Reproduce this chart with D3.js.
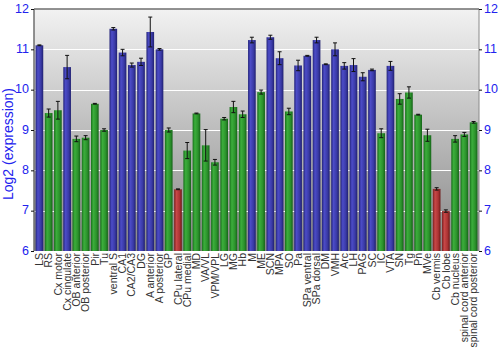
<!DOCTYPE html>
<html>
<head>
<meta charset="utf-8">
<script src="https://cdn.jsdelivr.net/npm/d3@7"></script>
<style>
  html, body { margin: 0; padding: 0; background: #fff; }
  svg { display: block; }
</style>
</head>
<body>
<svg id="chart" width="500" height="350"></svg>
<script>
// Brain regions and their mean log2 expression, with error (± half-range)
const regions = ["LS","RS","Cx motor","Cx cingulate","OB anterior","OB posterior","Pir","Tu",
  "ventral S","CA1","CA2/CA3","DG","A anterior","A posterior","GP","CPu lateral","CPu medial",
  "MD","VA/VL","VPM/VPL","LG","MG","Hb","M","ME","SCN","MPA","SO","Pa","SPa ventral",
  "SPa dorsal","DM","VMH","Arc","LH","PAG","SC","IC","VTA","SN","Tg","Pn","MVe",
  "Cb vermis","Cb lobe","Cb nucleus","spinal cord anterior","spinal cord posterior"];

const expression = [11.10,9.42,9.49,10.56,8.78,8.81,9.65,9.00,
  11.51,10.92,10.61,10.69,11.43,11.00,9.00,7.53,8.49,
  9.41,8.62,8.20,9.28,9.57,9.39,11.23,9.94,11.30,10.78,9.46,10.60,10.84,
  11.23,10.63,11.00,10.59,10.61,10.32,10.49,8.92,10.59,9.77,9.93,9.38,8.87,
  7.54,6.99,8.78,8.89,9.19];

const errors = [0.01,0.10,0.22,0.29,0.07,0.05,0.01,0.03,
  0.03,0.08,0.05,0.09,0.37,0.02,0.05,0.01,0.20,
  0.01,0.39,0.07,0.03,0.14,0.08,0.07,0.05,0.05,0.16,0.08,0.13,0.01,
  0.07,0.01,0.16,0.08,0.16,0.10,0.02,0.11,0.11,0.13,0.14,0.01,0.15,
  0.03,0.03,0.08,0.05,0.02];

// expression level class: h = high, m = medium, l = low
const levels = ["h","m","m","h","m","m","m","m",
  "h","h","h","h","h","h","m","l","m",
  "m","m","m","m","m","m","h","m","h","h","m","h","h",
  "h","h","h","h","h","h","h","m","h","m","m","m","m",
  "l","l","m","m","m"];

const yTicks = [6,7,8,9,10,11,12];

const svg = d3.select("#chart");
const margin = {left: 34, right: 21, top: 9, bottom: 99};
const W = 500, H = 350;
const x0 = margin.left, x1 = W - margin.right, y0 = margin.top, y1 = H - margin.bottom;
const font = "'Liberation Sans', Arial, sans-serif";

const x = d3.scaleBand().domain(regions).range([x0, x1]).padding(0.17);
const y = d3.scaleLinear().domain([6, 12]).range([y1, y0]);

const defs = svg.append("defs");
const bg = defs.append("linearGradient").attr("id", "bg").attr("x1", 0).attr("y1", 0).attr("x2", 0).attr("y2", 1);
bg.append("stop").attr("offset", "0%").attr("stop-color", "#f2f2f2");
bg.append("stop").attr("offset", "100%").attr("stop-color", "#878787");

const palette = {
  h: ["#24247a", "#4c4cc8", "#3a3aa6", "#202070"],
  m: ["#17701a", "#3cae3c", "#2c922c", "#156418"],
  l: ["#7a1e1e", "#c84848", "#ac3434", "#6e1a1a"]
};
Object.entries(palette).forEach(([k, c]) => {
  const g = defs.append("linearGradient").attr("id", "bar-" + k)
    .attr("x1", 0).attr("y1", 0).attr("x2", 1).attr("y2", 0);
  g.append("stop").attr("offset", "0%").attr("stop-color", c[0]);
  g.append("stop").attr("offset", "30%").attr("stop-color", c[1]);
  g.append("stop").attr("offset", "70%").attr("stop-color", c[2]);
  g.append("stop").attr("offset", "100%").attr("stop-color", c[3]);
});

// plot background
svg.append("rect").attr("x", x0).attr("y", y0).attr("width", x1 - x0).attr("height", y1 - y0)
  .attr("fill", "url(#bg)");

// horizontal grid
svg.append("g").selectAll("line").data(yTicks.filter(t => t > 6 && t < 12)).join("line")
  .attr("x1", x0).attr("x2", x1).attr("y1", d => Math.round(y(d)) + 0.5).attr("y2", d => Math.round(y(d)) + 0.5)
  .attr("stroke", "#ffffff").attr("stroke-width", 1.2);

// bars
svg.append("g").selectAll("rect").data(regions).join("rect")
  .attr("x", d => x(d)).attr("width", x.bandwidth())
  .attr("y", (d, i) => y(expression[i])).attr("height", (d, i) => y1 - y(expression[i]))
  .attr("fill", (d, i) => "url(#bar-" + levels[i] + ")");

// error bars
const eb = svg.append("g").attr("stroke", "#111").attr("stroke-width", 1);
regions.forEach((r, i) => {
  const cx = x(r) + x.bandwidth() / 2;
  const lo = y(expression[i] - errors[i]), hi = y(expression[i] + errors[i]);
  eb.append("line").attr("x1", cx).attr("x2", cx).attr("y1", lo).attr("y2", hi);
  eb.append("line").attr("x1", cx - 2).attr("x2", cx + 2).attr("y1", lo).attr("y2", lo);
  eb.append("line").attr("x1", cx - 2).attr("x2", cx + 2).attr("y1", hi).attr("y2", hi);
});

// frame
svg.append("line").attr("x1", x1).attr("x2", x1).attr("y1", y0).attr("y2", y1)
  .attr("stroke", "#8a8a8a").attr("stroke-width", 1);
svg.append("line").attr("x1", x0).attr("x2", x1).attr("y1", y0).attr("y2", y0)
  .attr("stroke", "#6e6e6e").attr("stroke-width", 1.5);
svg.append("line").attr("x1", x0).attr("x2", x0).attr("y1", y0).attr("y2", y1)
  .attr("stroke", "#6e6e6e").attr("stroke-width", 1.5);

// axes
const leftAxis = svg.append("g").attr("transform", `translate(${x0},0)`)
  .call(d3.axisLeft(y).tickValues(yTicks).tickFormat(d3.format("d")).tickSize(3).tickPadding(2));
const rightAxis = svg.append("g").attr("transform", `translate(${x1},0)`)
  .call(d3.axisRight(y).tickValues(yTicks).tickFormat(d3.format("d")).tickSize(3).tickPadding(2));
[leftAxis, rightAxis].forEach(a => {
  a.select(".domain").remove();
  a.selectAll(".tick line").attr("stroke", "#111");
  a.selectAll("text").attr("fill", "#2222ee").attr("dy", "0.25em")
    .style("font-family", font).style("font-size", "12.5px");
});

// category labels
const xAxis = svg.append("g").attr("transform", `translate(0,${y1})`)
  .call(d3.axisBottom(x).tickSize(0).tickPadding(0));
xAxis.select(".domain").remove();
xAxis.selectAll("text")
  .attr("transform", "rotate(-90)")
  .attr("x", -2).attr("y", 0).attr("dy", "0.35em")
  .style("text-anchor", "end")
  .attr("fill", "#333")
  .style("font-family", font).style("font-size", "10.5px");

// y title
svg.append("text")
  .attr("transform", `translate(13,144) rotate(-90)`)
  .attr("text-anchor", "middle")
  .attr("fill", "#2222ee")
  .style("font-family", font).style("font-size", "14px")
  .text("Log2 (expression)");
</script>
</body>
</html>
